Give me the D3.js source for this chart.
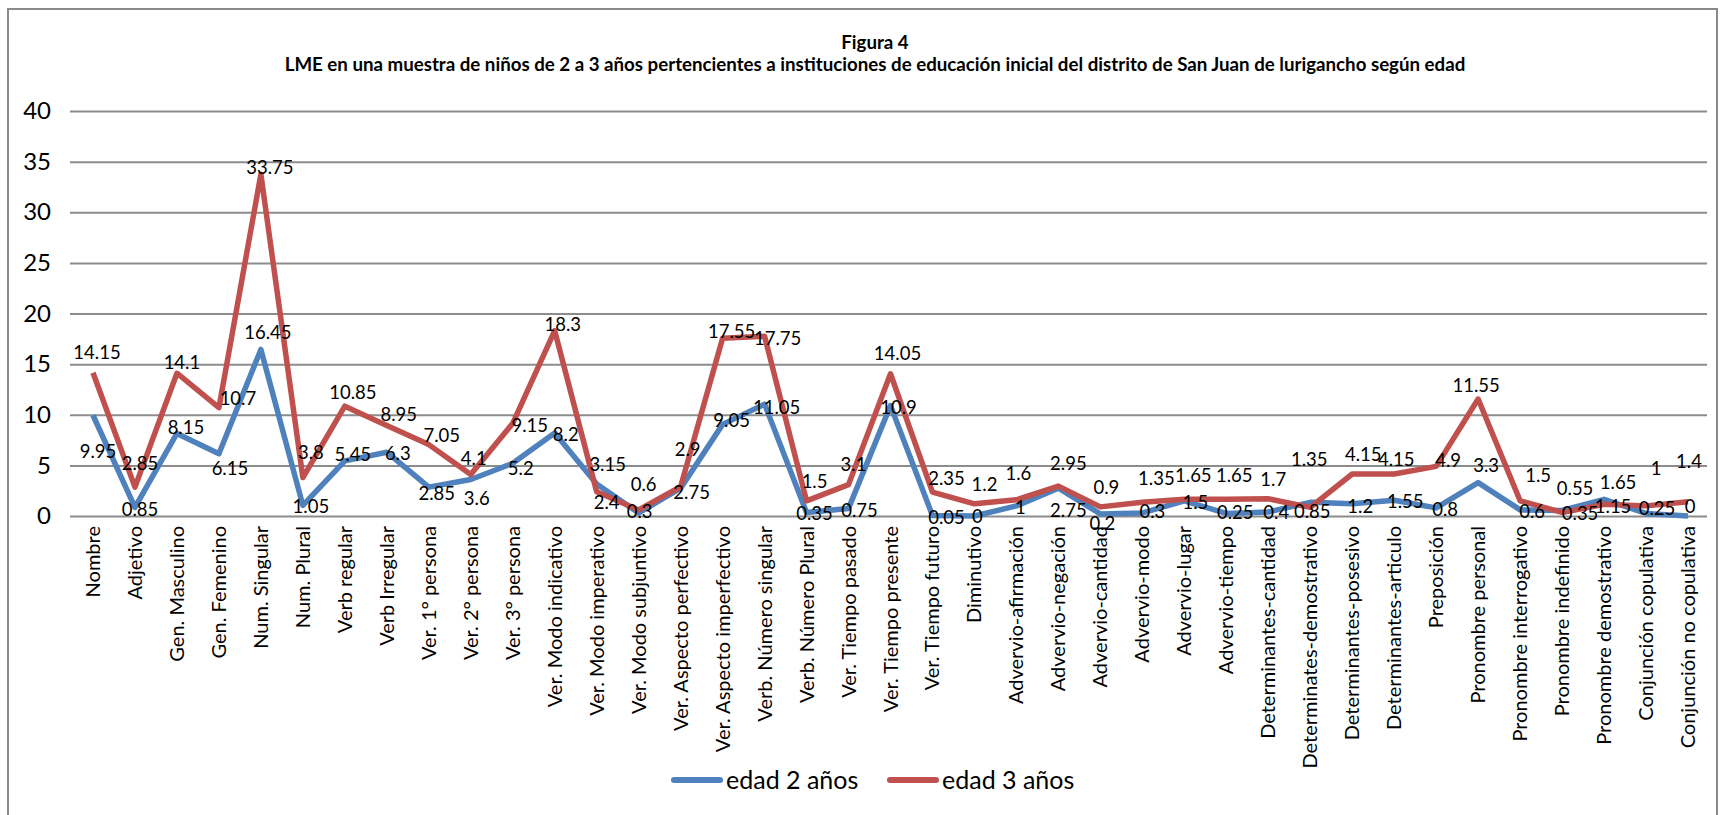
<!DOCTYPE html>
<html>
<head>
<meta charset="utf-8">
<script src="https://cdn.jsdelivr.net/npm/d3@7"></script>
<style>
  body { margin: 0; background: #fff; }
  svg { display: block; font-family: Lato, "Open Sans", sans-serif; }
</style>
</head>
<body>
<svg id="chart" width="1724" height="815"></svg>
<script>
// Categorías gramaticales (eje X)
const categories = [
  "Nombre", "Adjetivo", "Gen. Masculino", "Gen. Femenino", "Num. Singular",
  "Num. Plural", "Verb regular", "Verb Irregular", "Ver. 1° persona", "Ver. 2° persona",
  "Ver. 3° persona", "Ver. Modo indicativo", "Ver. Modo imperativo", "Ver. Modo subjuntivo",
  "Ver. Aspecto perfectivo", "Ver. Aspecto imperfectivo", "Verb. Número singular",
  "Verb. Número Plural", "Ver. Tiempo pasado", "Ver. Tiempo presente", "Ver. Tiempo futuro",
  "Diminutivo", "Advervio-afirmación", "Advervio-negación", "Advervio-cantidad",
  "Advervio-modo", "Advervio-lugar", "Advervio-tiempo", "Determinantes-cantidad",
  "Determinates-demostrativo", "Determinantes-posesivo", "Determinantes-articulo",
  "Preposición", "Pronombre personal", "Pronombre interrogativo", "Pronombre indefinido",
  "Pronombre demostrativo", "Conjunción copulativa", "Conjunción no copulativa"
];

// Serie: edad 2 años
const edad2 = [
  9.95, 0.85, 8.15, 6.15, 16.45, 1.05, 5.45, 6.3, 2.85, 3.6,
  5.2, 8.2, 3.15, 0.3, 2.75, 9.05, 11.05, 0.35, 0.75, 10.9,
  0.05, 0, 1, 2.75, 0.2, 0.3, 1.5, 0.25, 0.4, 1.35,
  1.2, 1.55, 0.8, 3.3, 0.6, 0.55, 1.65, 0.25, 0
];

// Serie: edad 3 años
const edad3 = [
  14.15, 2.85, 14.1, 10.7, 33.75, 3.8, 10.85, 8.95, 7.05, 4.1,
  9.15, 18.3, 2.4, 0.6, 2.9, 17.55, 17.75, 1.5, 3.1, 14.05,
  2.35, 1.2, 1.6, 2.95, 0.9, 1.35, 1.65, 1.65, 1.7, 0.85,
  4.15, 4.15, 4.9, 11.55, 1.5, 0.35, 1.15, 1, 1.4
];

const seriesNames = ["edad 2 años", "edad 3 años"];
const yTicks = [0, 5, 10, 15, 20, 25, 30, 35, 40];
const titleLines = [
  "Figura 4",
  "LME en una muestra de niños de 2 a 3 años pertencientes a instituciones de educación inicial del distrito de San Juan de lurigancho según edad"
];

// Desplazamiento [dx, dy] en px de cada etiqueta respecto a su punto
const nudge2 = [
  [5, 36], [5, 2], [9, -6], [11, 15], [7, -17], [8, 1], [8, -6], [11, 1], [8, 6], [6, 19],
  [8, 5], [11, 2], [11, -20], [1, -1], [11, 4], [9, -4], [12, 3], [8, 1], [11, 2], [8, 2],
  [14, 2], [3, 1], [4, 2], [10, 22], [2, 10], [10, -1], [11, 2], [9, -1], [8, 1], [-1, -43],
  [8, 3], [11, 1], [9, 2], [8, -17], [12, 2], [13, -22], [14, -17], [11, -5], [2, -9]
];
const nudge3 = [
  [4, -20], [5, -24], [5, -11], [19, -9], [9, -7], [8, -25], [8, -14], [12, -11], [13, -9], [3, -16],
  [17, 2], [8, -6], [10, 11], [5, -25], [7, -37], [9, -7], [13, 2], [8, -19], [5, -20], [7, -20],
  [14, -14], [10, -19], [2, -26], [10, -23], [6, -19], [14, -24], [9, -24], [8, -24], [5, -19], [2, 4],
  [11, -19], [2, -14], [12, -6], [-2, -14], [18, -25], [18, 1], [9, 2], [10, -37], [1, -40]
];

const colors = ["#4F81BD", "#C0504D"];
const series = [
  { name: seriesNames[0], values: edad2, nudge: nudge2, color: colors[0] },
  { name: seriesNames[1], values: edad3, nudge: nudge3, color: colors[1] }
];

const plot = { left: 70, right: 1707, top: 111, bottom: 516 };

const svg = d3.select("#chart");

// Marco exterior del gráfico
svg.append("rect")
  .attr("x", 8).attr("y", 9)
  .attr("width", 1709).attr("height", 830)
  .attr("fill", "none")
  .attr("stroke", "#8a8a8a")
  .attr("stroke-width", 2);

// Título en dos líneas, ajustado al ancho
const titleG = svg.append("g").attr("font-weight", "bold").attr("fill", "#000");
const t2 = titleG.append("text")
  .attr("x", 875).attr("y", 71)
  .attr("text-anchor", "middle")
  .attr("font-size", 16)
  .text(titleLines[1]);
const w16 = t2.node().getComputedTextLength();
const titleSize = 16 * 1182 / w16;
t2.attr("font-size", titleSize);
titleG.append("text")
  .attr("x", 875).attr("y", 49)
  .attr("text-anchor", "middle")
  .attr("font-size", titleSize)
  .text(titleLines[0]);

const x = d3.scaleBand().domain(categories).range([72, 1709]);
const y = d3.scaleLinear().domain([0, 40]).range([plot.bottom, plot.top]);
const cx = c => x(c) + x.bandwidth() / 2;

// Eje Y con líneas de cuadrícula
const yAxis = svg.append("g")
  .attr("transform", `translate(${plot.left},0)`)
  .call(d3.axisLeft(y).tickValues(yTicks).tickSize(-(plot.right - plot.left)).tickPadding(19));
yAxis.select(".domain").remove();
yAxis.selectAll(".tick line").attr("stroke", "#8c8c8c").attr("stroke-width", 2);
yAxis.selectAll(".tick text")
  .attr("font-size", 24)
  .attr("font-family", "Lato, sans-serif")
  .attr("fill", "#000");

// Eje X con etiquetas verticales
const xAxis = svg.append("g")
  .attr("transform", `translate(0,${plot.bottom})`)
  .call(d3.axisBottom(x).tickSize(0));
xAxis.select(".domain").remove();
xAxis.selectAll(".tick text")
  .attr("transform", "rotate(-90)")
  .attr("x", -10)
  .attr("y", 0)
  .attr("dy", "0.35em")
  .attr("text-anchor", "end")
  .attr("font-size", 20)
  .attr("font-family", "Lato, sans-serif")
  .attr("fill", "#000");

// Líneas de las series
const line = d3.line()
  .x((d, i) => cx(categories[i]))
  .y(d => y(d));

svg.append("g").selectAll("path")
  .data(series)
  .join("path")
  .attr("d", s => line(s.values))
  .attr("fill", "none")
  .attr("stroke", s => s.color)
  .attr("stroke-width", 5.5)
  .attr("stroke-linejoin", "round")
  .attr("stroke-linecap", "butt");

// Etiquetas de datos
const labels = svg.append("g")
  .attr("font-size", 18.5)
  .attr("fill", "#000")
  .attr("text-anchor", "middle");
series.forEach(s => {
  labels.append("g").selectAll("text")
    .data(s.values)
    .join("text")
    .attr("x", (d, i) => cx(categories[i]) + s.nudge[i][0])
    .attr("y", (d, i) => y(d) + s.nudge[i][1])
    .attr("dy", "0.35em")
    .text(d => d);
});

// Leyenda
const legendX = [674, 890];
const legend = svg.append("g").selectAll("g")
  .data(series)
  .join("g")
  .attr("transform", (s, i) => `translate(${legendX[i]},780)`);
legend.append("line")
  .attr("x1", 0).attr("x2", 46)
  .attr("y1", 0).attr("y2", 0)
  .attr("stroke", s => s.color)
  .attr("stroke-width", 6)
  .attr("stroke-linecap", "round");
legend.append("text")
  .attr("x", 52)
  .attr("dy", "0.35em")
  .attr("font-size", 25)
  .attr("fill", "#000")
  .text(s => s.name);
</script>
</body>
</html>
